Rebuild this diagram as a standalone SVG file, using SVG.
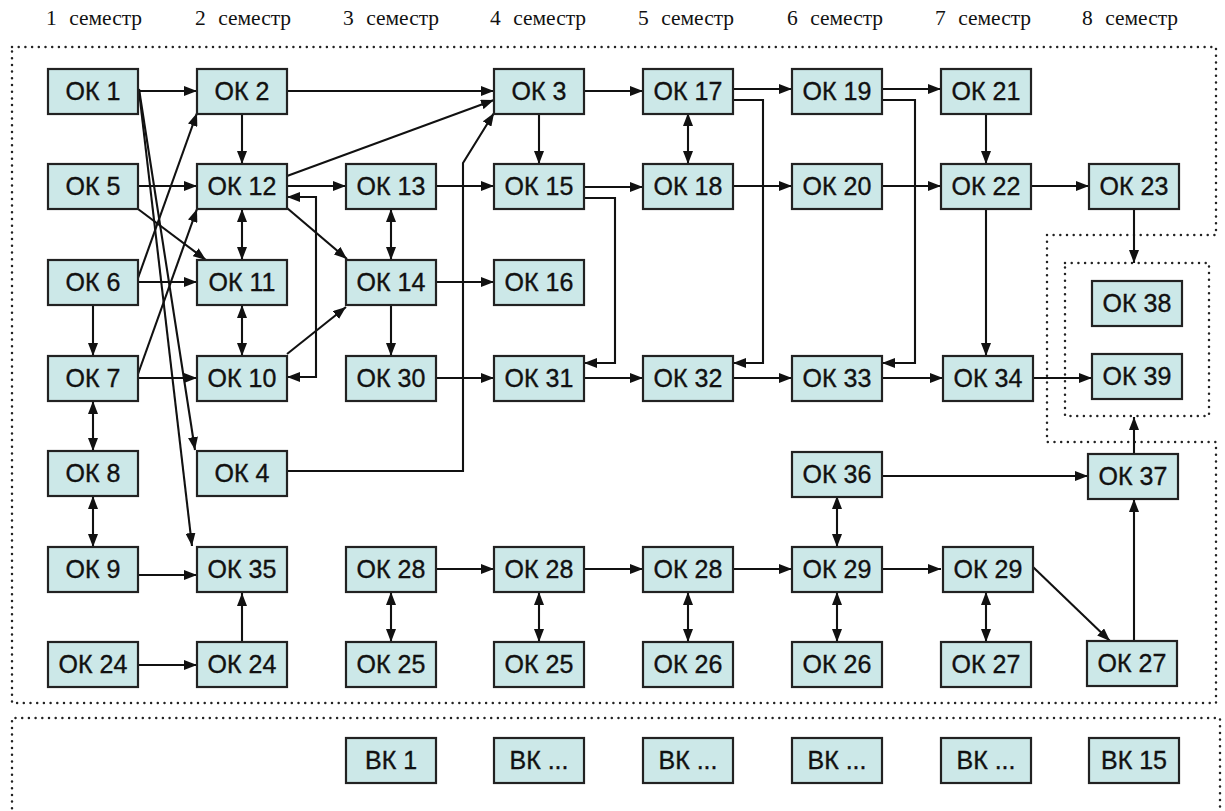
<svg xmlns="http://www.w3.org/2000/svg" width="1225" height="811" viewBox="0 0 1225 811">
<defs>
<style>
.n{fill:#cce8e8;stroke:#222;stroke-width:2.2}
.t{font-family:"Liberation Sans",Arial,Helvetica,sans-serif;font-size:25px;fill:#111;stroke:#111;stroke-width:0.35;text-anchor:middle}
.h{font-family:"Liberation Serif","Times New Roman",serif;font-size:21.5px;fill:#111;word-spacing:7px}
.c{fill:none;stroke:#111;stroke-width:2.1;marker-end:url(#ah)}
.d{marker-start:url(#ah)}
.dot{fill:none;stroke:#222;stroke-width:2.5;stroke-linecap:round;stroke-dasharray:0 6.7}
</style>
<marker id="ah" viewBox="0 0 13 10" refX="13" refY="5" markerWidth="13" markerHeight="10" markerUnits="userSpaceOnUse" orient="auto-start-reverse">
<path d="M0,0 L13,5 L0,10 z" fill="#111"/>
</marker>
</defs>
<rect width="1225" height="811" fill="#fff"/>

<g id="headers">
<text class="h" x="46" y="25">1 семестр</text>
<text class="h" x="195" y="25">2 семестр</text>
<text class="h" x="343" y="25">3 семестр</text>
<text class="h" x="490" y="25">4 семестр</text>
<text class="h" x="638" y="25">5 семестр</text>
<text class="h" x="787" y="25">6 семестр</text>
<text class="h" x="935" y="25">7 семестр</text>
<text class="h" x="1082" y="25">8 семестр</text>
</g>

<g id="frames">
<path class="dot" d="M12,47 H1216 V235 H1047 V442 H1216 V703 H12 Z"/>
<rect class="dot" x="1065" y="263" width="144" height="153"/>
<path class="dot" d="M12,815 V718 H1220 V815"/>
</g>

<g id="connectors">
<path class="c" d="M138,91 H197"/>
<path class="c" d="M139,89 L195,450"/>
<path class="c" d="M139,91 L192,546"/>
<path class="c" d="M287,91 H494"/>
<path class="c" d="M242,113 V164"/>
<path class="c" d="M138,186 H197"/>
<path class="c" d="M138,209 L206,260"/>
<path class="c" d="M138,278 L197,113"/>
<path class="c" d="M138,282 H197"/>
<path class="c" d="M93,305 V356"/>
<path class="c" d="M138,374 L197,209"/>
<path class="c" d="M138,378 H197"/>
<path class="c d" d="M93,401 V451"/>
<path class="c d" d="M93,496 V547"/>
<path class="c" d="M138,575 H197"/>
<path class="c" d="M138,665 H197"/>
<path class="c" d="M242,642 V593"/>
<path class="c d" d="M242,209 V260"/>
<path class="c d" d="M242,305 V356"/>
<path class="c" d="M287,176 L494,100"/>
<path class="c" d="M287,186 H346"/>
<path class="c" d="M287,208 L347,259"/>
<path class="c d" d="M287,197 H316 V377 H287"/>
<path class="c" d="M287,354 L346,307"/>
<path class="c d" d="M391,209 V260"/>
<path class="c" d="M436,186 H494"/>
<path class="c" d="M436,282 H494"/>
<path class="c" d="M391,305 V356"/>
<path class="c" d="M436,378 H494"/>
<path class="c" d="M287,471 H463 V163 L494,113"/>
<path class="c" d="M584,91 H643"/>
<path class="c" d="M539,113 V164"/>
<path class="c" d="M584,187 H643"/>
<path class="c" d="M584,198 H615 V363 H584"/>
<path class="c" d="M584,378 H643"/>
<path class="c d" d="M688,113 V164"/>
<path class="c" d="M733,89 H792"/>
<path class="c" d="M733,100 H763 V363 H733"/>
<path class="c" d="M733,186 H792"/>
<path class="c" d="M882,89 H941"/>
<path class="c" d="M882,100 H915 V363 H882"/>
<path class="c" d="M882,186 H941"/>
<path class="c" d="M733,378 H792"/>
<path class="c" d="M882,378 H943"/>
<path class="c" d="M986,113 V164"/>
<path class="c" d="M1031,186 H1089"/>
<path class="c" d="M986,209 V356"/>
<path class="c" d="M1134,209 V263"/>
<path class="c" d="M1033,378 H1092"/>
<path class="c" d="M1134,454 V417"/>
<path class="c" d="M882,476 H1088"/>
<path class="c d" d="M837,496 V547"/>
<path class="c" d="M436,569 H494"/>
<path class="c" d="M584,569 H643"/>
<path class="c" d="M733,569 H792"/>
<path class="c" d="M882,569 H941"/>
<path class="c d" d="M391,592 V642"/>
<path class="c d" d="M539,592 V642"/>
<path class="c d" d="M688,592 V642"/>
<path class="c d" d="M837,592 V642"/>
<path class="c d" d="M986,592 V642"/>
<path class="c" d="M1033,567 L1110,641"/>
<path class="c" d="M1134,641 V499"/>
</g>

<g id="ok1"><rect class="n" x="48" y="69" width="90" height="45"/><text class="t" x="93" y="100">ОК 1</text></g>
<g id="ok2"><rect class="n" x="197" y="69" width="90" height="45"/><text class="t" x="242" y="100">ОК 2</text></g>
<g id="ok3"><rect class="n" x="494" y="69" width="90" height="45"/><text class="t" x="539" y="100">ОК 3</text></g>
<g id="ok17"><rect class="n" x="643" y="69" width="90" height="45"/><text class="t" x="688" y="100">ОК 17</text></g>
<g id="ok19"><rect class="n" x="792" y="69" width="90" height="45"/><text class="t" x="837" y="100">ОК 19</text></g>
<g id="ok21"><rect class="n" x="941" y="69" width="90" height="45"/><text class="t" x="986" y="100">ОК 21</text></g>

<g id="ok5"><rect class="n" x="48" y="164" width="90" height="45"/><text class="t" x="93" y="195">ОК 5</text></g>
<g id="ok12"><rect class="n" x="197" y="164" width="90" height="45"/><text class="t" x="242" y="195">ОК 12</text></g>
<g id="ok13"><rect class="n" x="346" y="164" width="90" height="45"/><text class="t" x="391" y="195">ОК 13</text></g>
<g id="ok15"><rect class="n" x="494" y="164" width="90" height="45"/><text class="t" x="539" y="195">ОК 15</text></g>
<g id="ok18"><rect class="n" x="643" y="164" width="90" height="45"/><text class="t" x="688" y="195">ОК 18</text></g>
<g id="ok20"><rect class="n" x="792" y="164" width="90" height="45"/><text class="t" x="837" y="195">ОК 20</text></g>
<g id="ok22"><rect class="n" x="941" y="164" width="90" height="45"/><text class="t" x="986" y="195">ОК 22</text></g>
<g id="ok23"><rect class="n" x="1089" y="164" width="90" height="45"/><text class="t" x="1134" y="195">ОК 23</text></g>

<g id="ok6"><rect class="n" x="48" y="260" width="90" height="45"/><text class="t" x="93" y="291">ОК 6</text></g>
<g id="ok11"><rect class="n" x="197" y="260" width="90" height="45"/><text class="t" x="242" y="291">ОК 11</text></g>
<g id="ok14"><rect class="n" x="346" y="260" width="90" height="45"/><text class="t" x="391" y="291">ОК 14</text></g>
<g id="ok16"><rect class="n" x="494" y="260" width="90" height="45"/><text class="t" x="539" y="291">ОК 16</text></g>
<g id="ok38"><rect class="n" x="1092" y="281" width="90" height="45"/><text class="t" x="1137" y="312">ОК 38</text></g>

<g id="ok7"><rect class="n" x="48" y="356" width="90" height="45"/><text class="t" x="93" y="387">ОК 7</text></g>
<g id="ok10"><rect class="n" x="197" y="356" width="90" height="45"/><text class="t" x="242" y="387">ОК 10</text></g>
<g id="ok30"><rect class="n" x="346" y="356" width="90" height="45"/><text class="t" x="391" y="387">ОК 30</text></g>
<g id="ok31"><rect class="n" x="494" y="356" width="90" height="45"/><text class="t" x="539" y="387">ОК 31</text></g>
<g id="ok32"><rect class="n" x="643" y="356" width="90" height="45"/><text class="t" x="688" y="387">ОК 32</text></g>
<g id="ok33"><rect class="n" x="792" y="356" width="90" height="45"/><text class="t" x="837" y="387">ОК 33</text></g>
<g id="ok34"><rect class="n" x="943" y="356" width="90" height="45"/><text class="t" x="988" y="387">ОК 34</text></g>
<g id="ok39"><rect class="n" x="1092" y="354" width="90" height="45"/><text class="t" x="1137" y="385">ОК 39</text></g>

<g id="ok8"><rect class="n" x="48" y="451" width="90" height="45"/><text class="t" x="93" y="482">ОК 8</text></g>
<g id="ok4"><rect class="n" x="197" y="451" width="90" height="45"/><text class="t" x="242" y="482">ОК 4</text></g>
<g id="ok36"><rect class="n" x="792" y="452" width="90" height="45"/><text class="t" x="837" y="483">ОК 36</text></g>
<g id="ok37"><rect class="n" x="1088" y="454" width="90" height="45"/><text class="t" x="1133" y="485">ОК 37</text></g>

<g id="ok9"><rect class="n" x="48" y="547" width="90" height="45"/><text class="t" x="93" y="578">ОК 9</text></g>
<g id="ok35"><rect class="n" x="197" y="547" width="90" height="45"/><text class="t" x="242" y="578">ОК 35</text></g>
<g id="ok28a"><rect class="n" x="346" y="547" width="90" height="45"/><text class="t" x="391" y="578">ОК 28</text></g>
<g id="ok28b"><rect class="n" x="494" y="547" width="90" height="45"/><text class="t" x="539" y="578">ОК 28</text></g>
<g id="ok28c"><rect class="n" x="643" y="547" width="90" height="45"/><text class="t" x="688" y="578">ОК 28</text></g>
<g id="ok29a"><rect class="n" x="792" y="547" width="90" height="45"/><text class="t" x="837" y="578">ОК 29</text></g>
<g id="ok29b"><rect class="n" x="943" y="547" width="90" height="45"/><text class="t" x="988" y="578">ОК 29</text></g>

<g id="ok24a"><rect class="n" x="48" y="642" width="90" height="45"/><text class="t" x="93" y="673">ОК 24</text></g>
<g id="ok24b"><rect class="n" x="197" y="642" width="90" height="45"/><text class="t" x="242" y="673">ОК 24</text></g>
<g id="ok25a"><rect class="n" x="346" y="642" width="90" height="45"/><text class="t" x="391" y="673">ОК 25</text></g>
<g id="ok25b"><rect class="n" x="494" y="642" width="90" height="45"/><text class="t" x="539" y="673">ОК 25</text></g>
<g id="ok26a"><rect class="n" x="643" y="642" width="90" height="45"/><text class="t" x="688" y="673">ОК 26</text></g>
<g id="ok26b"><rect class="n" x="792" y="642" width="90" height="45"/><text class="t" x="837" y="673">ОК 26</text></g>
<g id="ok27a"><rect class="n" x="941" y="642" width="90" height="45"/><text class="t" x="986" y="673">ОК 27</text></g>
<g id="ok27b"><rect class="n" x="1087" y="641" width="90" height="45"/><text class="t" x="1132" y="672">ОК 27</text></g>

<g id="vk1"><rect class="n" x="346" y="738" width="90" height="45"/><text class="t" x="391" y="769">ВК 1</text></g>
<g id="vk2"><rect class="n" x="494" y="738" width="90" height="45"/><text class="t" x="539" y="769">ВК ...</text></g>
<g id="vk3"><rect class="n" x="643" y="738" width="90" height="45"/><text class="t" x="688" y="769">ВК ...</text></g>
<g id="vk4"><rect class="n" x="792" y="738" width="90" height="45"/><text class="t" x="837" y="769">ВК ...</text></g>
<g id="vk5"><rect class="n" x="941" y="738" width="90" height="45"/><text class="t" x="986" y="769">ВК ...</text></g>
<g id="vk15"><rect class="n" x="1089" y="738" width="90" height="45"/><text class="t" x="1134" y="769">ВК 15</text></g>
</svg>
